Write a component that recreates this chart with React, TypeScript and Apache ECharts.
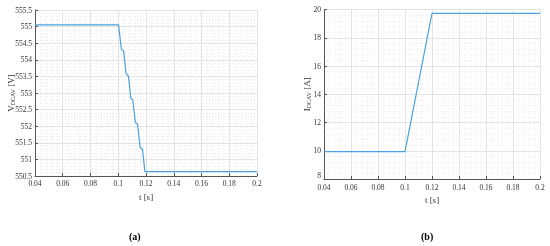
import React, { useEffect, useRef } from "react";
import * as echarts from "echarts";

const tV = [0.04, 0.1002, 0.1023, 0.1038, 0.1057, 0.1074, 0.109, 0.1104, 0.1124, 0.1139, 0.1158, 0.1175, 0.1192, 0.2];
const vDC = [555.05, 555.05, 554.31, 554.27, 553.58, 553.51, 552.85, 552.8, 552.11, 552.06, 551.36, 551.3, 550.63, 550.63];

const tI = [0.04, 0.1, 0.12, 0.2];
const iDC = [9.94, 9.94, 19.72, 19.72];

const FONT = "Liberation Serif";

function axisCommon() {
  return {
    axisLine: { show: true, lineStyle: { color: "#555", width: 1 } },
    axisTick: { show: true, inside: true, length: 3, lineStyle: { color: "#555" } },
    axisLabel: { color: "#333", fontFamily: FONT, fontSize: 7.5, margin: 3 },
    splitLine: { show: true, lineStyle: { color: "#e3e3e3", width: 1 } },
    minorTick: { show: false, splitNumber: 5 },
    minorSplitLine: { show: true, lineStyle: { color: "#ececec", type: [1, 2], width: 1 } },
  };
}

const fmtT = (v: number) => String(parseFloat(v.toFixed(3)));

export default function App() {
  const ref = useRef<HTMLDivElement>(null);
  useEffect(() => {
    if (!ref.current) return;
    const chart = echarts.init(ref.current, undefined, { renderer: "svg" });
    const nameRich = {
      m: { fontFamily: FONT, fontSize: 9, color: "#333" },
      s: { fontFamily: FONT, fontSize: 6, color: "#333", padding: [5, 0, 0, 0] },
    };
    chart.setOption({
      animation: false,
      grid: [
        { left: 35, top: 10, width: 222, height: 166, outerBoundsMode: "none", containLabel: false },
        { left: 324, top: 9.5, width: 216, height: 169.5, outerBoundsMode: "none", containLabel: false },
      ],
      xAxis: [
        {
          gridIndex: 0, type: "value", min: 0.04, max: 0.2, interval: 0.02,
          name: "t [s]", nameLocation: "middle", nameGap: 16, nameMoveOverlap: false,
          nameTextStyle: { fontFamily: FONT, fontSize: 9, color: "#333" },
          ...axisCommon(),
          axisLabel: { ...axisCommon().axisLabel, formatter: fmtT },
        },
        {
          gridIndex: 1, type: "value", min: 0.04, max: 0.2, interval: 0.02,
          name: "t [s]", nameLocation: "middle", nameGap: 16, nameMoveOverlap: false,
          nameTextStyle: { fontFamily: FONT, fontSize: 9, color: "#333" },
          ...axisCommon(),
          axisLabel: { ...axisCommon().axisLabel, margin: 4, formatter: fmtT },
        },
      ],
      yAxis: [
        {
          gridIndex: 0, type: "value", min: 550.5, max: 555.5, interval: 0.5,
          name: "{m|V}{s|DCAV}{m| [V]}", nameLocation: "middle", nameGap: 19, nameRotate: 90,
          nameMoveOverlap: false,
          nameTextStyle: { rich: nameRich },
          ...axisCommon(),
        },
        {
          gridIndex: 1, type: "value", min: 8, max: 20, interval: 2,
          name: "{m|I}{s|DCAV}{m| [A]}", nameLocation: "middle", nameGap: 12, nameRotate: 90,
          nameMoveOverlap: false,
          nameTextStyle: { rich: nameRich },
          ...axisCommon(),
          axisLabel: {
            ...axisCommon().axisLabel,
            formatter: (v: number) => (v === 8 ? "{lo|8}" : String(v)),
            rich: { lo: { fontFamily: FONT, fontSize: 7.5, color: "#333", padding: [0, 0, 8, 0] } },
          },
        },
      ],
      series: [
        {
          type: "line", xAxisIndex: 0, yAxisIndex: 0, showSymbol: false,
          data: tV.map((t, k) => [t, vDC[k]]),
          lineStyle: { color: "#4ba0e0", width: 1.2 },
        },
        {
          type: "line", xAxisIndex: 1, yAxisIndex: 1, showSymbol: false,
          data: tI.map((t, k) => [t, iDC[k]]),
          lineStyle: { color: "#4ba0e0", width: 1.2 },
        },
      ],
      graphic: [
        { type: "text", left: 129, top: 231, style: { text: "(a)", font: `bold 10px "${FONT}"`, fill: "#000" } },
        { type: "text", left: 421, top: 231, style: { text: "(b)", font: `bold 10px "${FONT}"`, fill: "#000" } },
      ],
    });
    return () => chart.dispose();
  }, []);
  return <div ref={ref} style={{ position: "fixed", left: 0, top: 0, width: 550, height: 246 }} />;
}
